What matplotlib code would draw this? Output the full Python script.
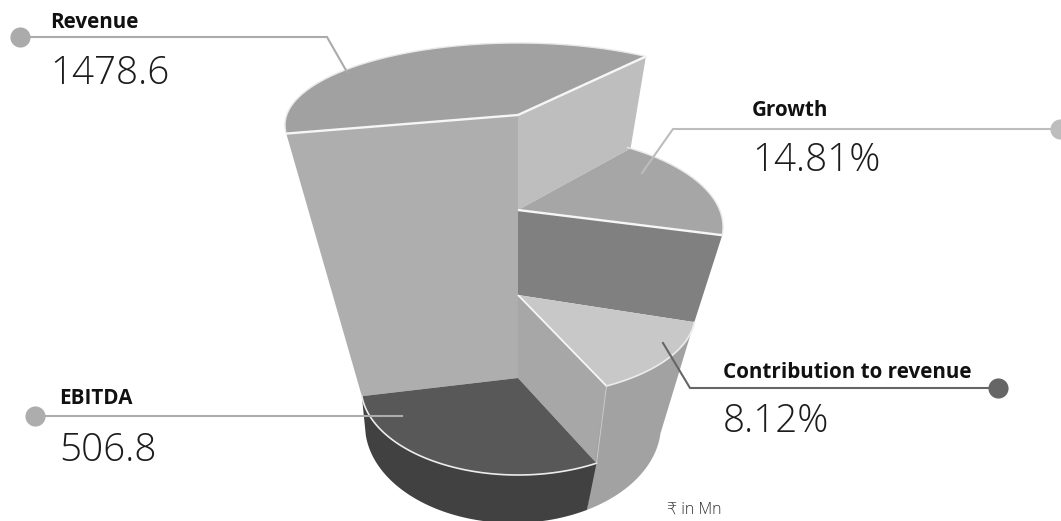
import numpy as np
import matplotlib
matplotlib.use('Agg')
import matplotlib.pyplot as plt

plt.rcParams['font.family'] = ['Open Sans', 'DejaVu Sans']

# pie slices, clockwise from the back left
slice_names = ['Revenue', 'Growth', 'Contribution to revenue', 'EBITDA']
slice_values = ['1478.6', '14.81%', '8.12%', '506.8']
slice_degrees = [129.3, 61.7, 55.0, 114.0]
start_degree = 186.0

# one disc per level: axis y, half width, half height, drop of the ellipse below the axis
level_y = [115, 210, 295, 378, 415]
level_rx = [233, 205, 177, 157, 148]
level_ry = [82, 94, 82, 88, 98]
level_drop = [10, 17, 20, 9, 10]
level_shift = [0, 0, 0, 0, -5]
REV, GRO, CON, EBI, BASE = 0, 1, 2, 3, 4

top_colors = ['#a1a1a1', '#a6a6a6', '#c8c8c8', '#585858']
wall_left = '#aeaeae'
wall_right = '#bebebe'
wall_growth = '#808080'
wall_contrib = '#a7a7a7'
side_contrib = '#a2a2a2'
side_ebitda = '#414141'

AXIS_X = 518
edges = start_degree - np.cumsum([0] + slice_degrees)
A_LEFT, A_RIGHT, A_GROWTH, A_FRONT, A_END = edges


def disc(level, deg):
    t = np.radians(deg)
    x = AXIS_X + level_shift[level] + level_rx[level] * np.cos(t)
    y = level_y[level] + level_drop[level] - level_ry[level] * np.sin(t)
    return x, y


def arc(level, a, b):
    return disc(level, np.linspace(a, b, 120))


def centre(level):
    return AXIS_X, level_y[level]


def sector(ax, level, a, b, color):
    x, y = arc(level, a, b)
    cx, cy = centre(level)
    ax.fill(np.r_[cx, x], np.r_[cy, y], color=color, lw=0)


def wall(ax, level1, level2, deg, color):
    # flat inner wall between two levels
    p1 = centre(level1)
    p2 = disc(level1, deg)
    p3 = disc(level2, deg)
    p4 = centre(level2)
    ax.fill([p1[0], p2[0], p3[0], p4[0]], [p1[1], p2[1], p3[1], p4[1]], color=color, lw=0)


def side(ax, level1, level2, a, b, color):
    x1, y1 = arc(level1, a, b)
    x2, y2 = arc(level2, b, a)
    ax.fill(np.r_[x1, x2], np.r_[y1, y2], color=color, lw=0)


def spoke(ax, level, deg, lw=1.7, color='#f6f6f6'):
    p = disc(level, deg)
    c = centre(level)
    ax.plot([c[0], p[0]], [c[1], p[1]], color=color, lw=lw, solid_capstyle='butt')


fig = plt.figure(figsize=(10.61, 5.21), dpi=100)
ax = fig.add_axes([0, 0, 1, 1])
ax.set_xlim(0, 1061)
ax.set_ylim(521, 0)
ax.axis('off')

# inner walls first
wall(ax, REV, EBI, A_LEFT, wall_left)
wall(ax, REV, GRO, A_RIGHT, wall_right)
sector(ax, REV, A_LEFT, A_RIGHT, top_colors[0])
ax.plot(*arc(REV, A_LEFT, A_RIGHT), color='#e8e8e8', lw=1.0)
spoke(ax, REV, A_LEFT)
spoke(ax, REV, A_RIGHT)

wall(ax, GRO, CON, A_GROWTH, wall_growth)
sector(ax, GRO, A_RIGHT, A_GROWTH, top_colors[1])
ax.plot(*arc(GRO, A_RIGHT + 1, A_GROWTH), color='#e8e8e8', lw=1.0)
spoke(ax, GRO, A_GROWTH)

wall(ax, CON, EBI, A_FRONT, wall_contrib)
side(ax, CON, BASE, A_GROWTH, A_FRONT, side_contrib)
sector(ax, CON, A_GROWTH, A_FRONT, top_colors[2])
ax.plot(*arc(CON, A_GROWTH, A_FRONT), color='#ececec', lw=1.2)
spoke(ax, CON, A_FRONT, lw=1.3)

side(ax, EBI, BASE, A_FRONT, A_END, side_ebitda)
sector(ax, EBI, A_FRONT, A_END, top_colors[3])
ax.plot(*arc(EBI, A_FRONT, A_END), color='#ececec', lw=1.2)
# thin seam down the front
pa = disc(CON, A_FRONT)
pb = disc(EBI, A_FRONT)
ax.plot([pa[0], pb[0]], [pa[1], pb[1]], color='#d0d0d0', lw=0.6)

# leaders: dot, elbow, end on the slice
leader_x = [[20, 327, 347], [1060, 673, 642], [998, 690, 663], [35, 402]]
leader_y = [[37, 37, 72], [129, 129, 173], [388, 388, 343], [416, 416]]
leader_colors = ['#ababab', '#bdbdbd', '#666666', '#adadad']
for lx, ly, c in zip(leader_x, leader_y, leader_colors):
    ax.plot(lx, ly, color=c, lw=1.5, solid_joinstyle='miter')
    ax.plot(lx[0], ly[0], 'o', color=c, ms=14.5, mew=0)

label_x = [50, 752, 723, 59]
name_y = [28, 116, 378, 404]
value_y = [84, 171, 432, 461]
for i in range(4):
    ax.text(label_x[i], name_y[i], slice_names[i], fontsize=14.9, fontweight='bold',
            color='#111111', va='baseline')
    ax.text(label_x[i], value_y[i], slice_values[i], fontsize=27.8, fontweight='light',
            color='#1c1c1c', va='baseline')

ax.text(667, 514, '₹ in Mn', fontsize=11.5, fontweight='light', color='#333333', va='baseline')

fig.savefig('out.png', dpi=100)
